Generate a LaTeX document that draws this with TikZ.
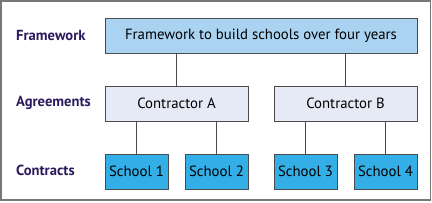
\documentclass[tikz,border=0pt]{standalone}
\usepackage{fontspec}
\setmainfont{PT Sans}
\definecolor{lbl}{HTML}{2B1B5E}
\definecolor{fw}{HTML}{A9D3F0}
\definecolor{ag}{HTML}{E6EAF6}
\definecolor{sc}{HTML}{33AEE6}
\definecolor{bd}{HTML}{4A4A4A}
\definecolor{fr}{HTML}{777777}
\begin{document}
\begin{tikzpicture}[x=1pt,y=-1pt,
  box/.style={draw=bd,line width=0.9pt,inner sep=0pt,font=\fontsize{14.8}{16}\selectfont},
  lab/.style={text=lbl,font=\bfseries\fontsize{14.6}{16}\selectfont,anchor=west,inner sep=0pt},
  conn/.style={draw=bd,line width=0.8pt}]
\useasboundingbox (0,0) rectangle (432,202);
\draw[fr,line width=1.5pt] (1,1) rectangle (430.5,200);
\node[box,fill=fw,minimum width=312pt,minimum height=35pt] (f) at (261,35.5) {Framework to build schools over four years};
\node[box,fill=ag,minimum width=143pt,minimum height=35pt] (a) at (176.5,103.5) {Contractor A};
\node[box,fill=ag,minimum width=143pt,minimum height=35pt] (b) at (345.5,103.5) {Contractor B};
\node[box,fill=sc,minimum width=63pt,minimum height=35pt] (s1) at (136.5,171.5) {School 1};
\node[box,fill=sc,minimum width=63pt,minimum height=35pt] (s2) at (216.5,171.5) {School 2};
\node[box,fill=sc,minimum width=63pt,minimum height=35pt] (s3) at (305.5,171.5) {School 3};
\node[box,fill=sc,minimum width=63pt,minimum height=35pt] (s4) at (385.5,171.5) {School 4};
\path[conn] (a.north) -- (a.north |- f.south);
\path[conn] (b.north) -- (b.north |- f.south);
\path[conn] (s1.north) -- (s1.north |- a.south);
\path[conn] (s2.north) -- (s2.north |- a.south);
\path[conn] (s3.north) -- (s3.north |- b.south);
\path[conn] (s4.north) -- (s4.north |- b.south);
\node[lab] (l1) at (16,35.5) {Framework};
\node[lab] (l2) at (16,103) {Agreements};
\node[lab] (l3) at (16,170.5) {Contracts};
\end{tikzpicture}
\end{document}
